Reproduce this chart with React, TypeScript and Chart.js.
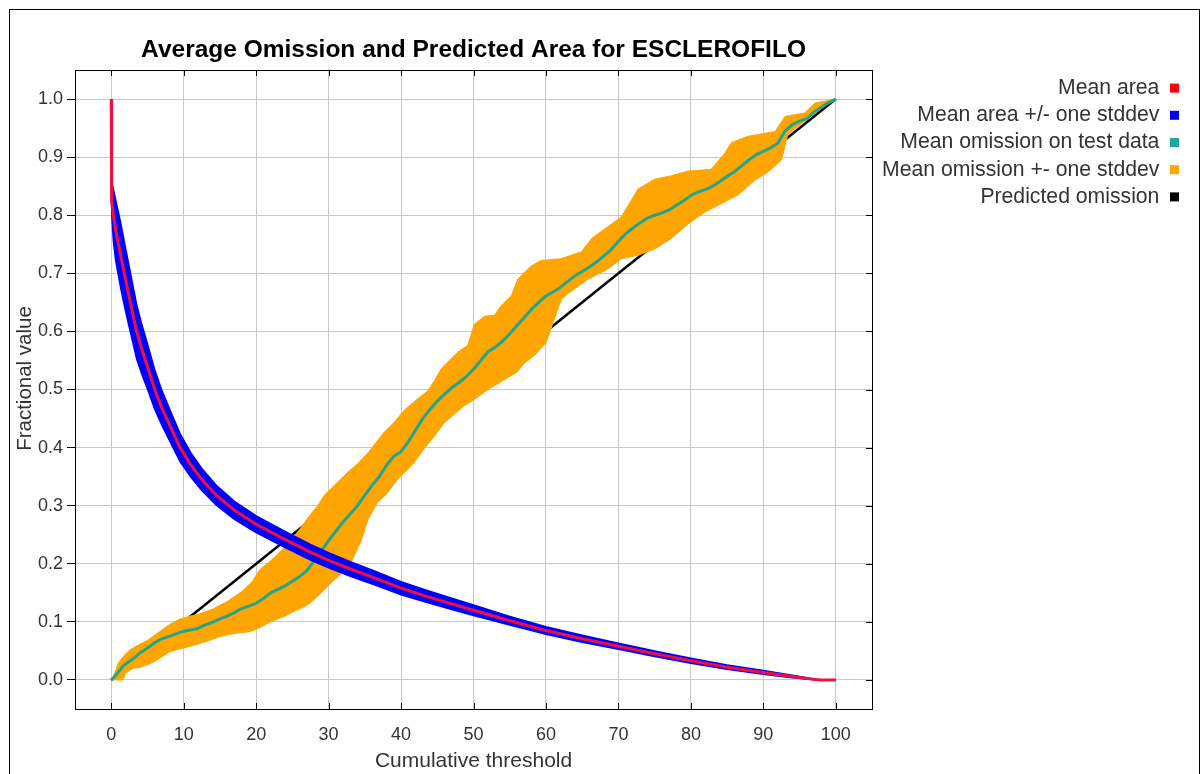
import React, { useEffect, useRef } from 'react';
import { Chart, registerables } from 'chart.js';

Chart.register(...registerables);

const FONT = "'Liberation Sans', Arial, Helvetica, sans-serif";

const TITLE = 'Average Omission and Predicted Area for ESCLEROFILO';
const X_TITLE = 'Cumulative threshold';
const Y_TITLE = 'Fractional value';

const LEGEND_LABELS = [
  'Mean area',
  'Mean area +/- one stddev',
  'Mean omission on test data',
  'Mean omission +- one stddev',
  'Predicted omission',
];
const LEGEND_COLORS = ['#ff0000', '#0000ff', '#1fa89a', '#ffa500', '#000000'];
const LEGEND_DATASET = [0, 1, 3, 4, 6];

const X_TICKS = [0, 10, 20, 30, 40, 50, 60, 70, 80, 90, 100];
const Y_TICKS = [0, 0.1, 0.2, 0.3, 0.4, 0.5, 0.6, 0.7, 0.8, 0.9, 1.0];

// Mean area (red)
const areaX = [0, 0, 0.1, 0.3, 0.6, 1.0, 1.4, 1.8, 2.3, 2.9, 3.5, 4.2, 5.0, 6.0, 7.0, 8.2, 9.5, 11, 12.5, 14.5, 17, 20, 23.8, 27.5, 30, 33, 36.5, 40, 43.5, 47, 50, 55, 60, 65, 70, 75, 80, 85, 90, 94, 97, 98, 100];
const areaMean = [1.0, 0.85, 0.825, 0.8, 0.775, 0.75, 0.725, 0.7, 0.67, 0.635, 0.6, 0.57, 0.54, 0.5, 0.468, 0.435, 0.4, 0.37, 0.345, 0.318, 0.292, 0.268, 0.243, 0.22, 0.206, 0.191, 0.175, 0.158, 0.144, 0.131, 0.12, 0.102, 0.085, 0.071, 0.058, 0.045, 0.033, 0.022, 0.013, 0.006, 0.001, 0, 0];

// Mean area +/- one stddev (blue band)
const areaBandX = [0, 0.1, 0.3, 0.6, 1.0, 1.4, 1.8, 2.3, 2.9, 3.5, 4.2, 5.0, 6.0, 7.0, 8.2, 9.5, 11, 12.5, 14.5, 17, 20, 23.8, 27.5, 30, 33, 36.5, 40, 43.5, 47, 50, 55, 60, 65, 70, 75, 80, 85, 90, 94, 97, 98, 100];
const areaUpper = [0.86, 0.855, 0.845, 0.827, 0.805, 0.781, 0.755, 0.723, 0.685, 0.647, 0.613, 0.579, 0.534, 0.498, 0.462, 0.424, 0.391, 0.364, 0.335, 0.3075, 0.2825, 0.257, 0.2335, 0.219, 0.2035, 0.187, 0.1692, 0.1545, 0.1407, 0.129, 0.1095, 0.0915, 0.077, 0.0633, 0.0498, 0.0373, 0.0258, 0.0162, 0.0082, 0.0018, 0, 0];
const areaLower = [0.84, 0.795, 0.755, 0.723, 0.695, 0.669, 0.645, 0.617, 0.585, 0.553, 0.527, 0.501, 0.466, 0.438, 0.408, 0.376, 0.349, 0.326, 0.301, 0.2765, 0.2535, 0.229, 0.2065, 0.193, 0.1785, 0.163, 0.1468, 0.1335, 0.1213, 0.111, 0.0945, 0.0785, 0.065, 0.0527, 0.0402, 0.0287, 0.0182, 0.0098, 0.0038, 0.0002, 0, 0];

// Mean omission on test data (teal)
const omissionX = [0, 0.5, 1, 1.7, 2.5, 3.2, 3.9, 5, 6, 6.8, 8, 9.5, 10.5, 11.8, 13, 14, 15, 16, 17, 17.8, 19, 20, 21, 22, 23, 24, 25, 26, 27, 28, 29, 30, 31, 32, 33, 34, 35, 36, 37, 38, 39, 40, 41, 42, 43, 44, 45, 46, 47, 48, 49, 50, 51, 52, 53, 54, 55, 56, 57, 58, 59, 60, 61, 62, 63, 64, 65, 66, 67, 68, 69, 70, 71, 72, 73, 74, 75, 76, 77, 78, 79, 80, 81, 82, 83, 84, 85, 86, 87, 88, 89, 90, 91, 92, 93, 94, 95, 96, 97, 98, 99, 100];
const omissionMean = [0, 0.006, 0.014, 0.025, 0.032, 0.038, 0.046, 0.055, 0.064, 0.07, 0.075, 0.082, 0.085, 0.088, 0.095, 0.099, 0.105, 0.11, 0.116, 0.122, 0.127, 0.132, 0.14, 0.15, 0.156, 0.162, 0.17, 0.178, 0.188, 0.205, 0.222, 0.24, 0.256, 0.272, 0.286, 0.3, 0.318, 0.335, 0.35, 0.37, 0.385, 0.393, 0.41, 0.43, 0.45, 0.466, 0.48, 0.492, 0.503, 0.512, 0.522, 0.535, 0.55, 0.565, 0.573, 0.583, 0.596, 0.61, 0.624, 0.638, 0.65, 0.661, 0.668, 0.676, 0.686, 0.696, 0.703, 0.711, 0.72, 0.73, 0.741, 0.755, 0.768, 0.778, 0.787, 0.795, 0.8, 0.804, 0.809, 0.817, 0.825, 0.834, 0.84, 0.844, 0.85, 0.858, 0.867, 0.875, 0.885, 0.895, 0.904, 0.91, 0.916, 0.924, 0.945, 0.956, 0.962, 0.966, 0.978, 0.986, 0.994, 1.0];

// Mean omission +- one stddev (orange band)
const omUpperX = [0, 0.5, 1, 2, 2.6, 4, 5, 7, 8, 9.5, 11, 12.5, 14, 16, 18, 19.5, 20.5, 22, 23, 24.5, 25.7, 27.5, 28.5, 29.4, 30.7, 32.6, 34, 35.5, 37.7, 39, 40.5, 42.3, 43.7, 44.6, 45.5, 46.4, 47.8, 49.2, 50.1, 51.5, 52.9, 53.8, 55.2, 56.1, 58, 59.3, 62, 64.9, 66.3, 68.5, 70.4, 72.7, 75, 77.3, 79.6, 82.8, 84.7, 85.6, 87.9, 91.6, 93, 95.7, 97.1, 100];
const omUpper = [0, 0.012, 0.03, 0.045, 0.052, 0.062, 0.068, 0.086, 0.095, 0.105, 0.11, 0.115, 0.122, 0.135, 0.152, 0.17, 0.19, 0.205, 0.217, 0.235, 0.254, 0.285, 0.3, 0.318, 0.334, 0.357, 0.372, 0.392, 0.427, 0.443, 0.465, 0.484, 0.498, 0.515, 0.535, 0.547, 0.564, 0.576, 0.612, 0.626, 0.628, 0.644, 0.661, 0.69, 0.713, 0.722, 0.725, 0.737, 0.76, 0.78, 0.797, 0.845, 0.862, 0.868, 0.876, 0.879, 0.907, 0.925, 0.936, 0.944, 0.97, 0.976, 0.993, 1.0];
const omLowerX = [0, 1.6, 2, 3, 4, 5, 6, 7, 8, 9, 10, 12, 14, 15, 17, 19, 20, 22, 24, 25, 26.5, 27.5, 29, 30.3, 31.5, 33.1, 34.5, 35.4, 36.7, 38, 39.5, 41.8, 43, 44.6, 46, 48.7, 50, 52, 54, 56, 57, 58.5, 60, 62.1, 63, 65.8, 68.5, 70.4, 72.7, 75, 77.3, 79.6, 81.9, 84.2, 86.5, 88.8, 90.7, 92.5, 93.4, 96.2, 98, 100];
const omLower = [0, 0, 0.012, 0.02, 0.022, 0.026, 0.032, 0.04, 0.048, 0.052, 0.055, 0.062, 0.07, 0.075, 0.08, 0.083, 0.087, 0.1, 0.11, 0.117, 0.125, 0.133, 0.15, 0.167, 0.18, 0.202, 0.24, 0.275, 0.305, 0.32, 0.345, 0.374, 0.395, 0.42, 0.443, 0.472, 0.482, 0.5, 0.515, 0.53, 0.545, 0.56, 0.58, 0.655, 0.665, 0.69, 0.707, 0.725, 0.731, 0.742, 0.76, 0.785, 0.805, 0.82, 0.835, 0.86, 0.875, 0.895, 0.94, 0.966, 0.984, 1.0];

// Predicted omission (black)
const predictedX = [0, 100];
const predictedY = [0, 1];

const pts = (xs: number[], ys: number[]) => xs.map((x, i) => ({ x, y: ys[i] }));

const framePlugin = {
  id: 'frameAndTicks',
  afterDatasetsDraw(chart: any) {
    const { ctx, chartArea, scales } = chart;
    const { left, top, right, bottom } = chartArea;
    const x = scales.x;
    const y = scales.y;
    ctx.save();
    ctx.strokeStyle = '#000';
    ctx.lineWidth = 1;
    ctx.strokeRect(Math.round(left) + 0.5, Math.round(top) + 0.5, Math.round(right - left), Math.round(bottom - top));
    ctx.beginPath();
    X_TICKS.forEach((v) => {
      const px = Math.round(x.getPixelForValue(v)) + 0.5;
      ctx.moveTo(px, bottom);
      ctx.lineTo(px, bottom - 6);
      ctx.moveTo(px, top);
      ctx.lineTo(px, top + 6);
    });
    Y_TICKS.forEach((v) => {
      const py = Math.round(y.getPixelForValue(v)) + 0.5;
      ctx.moveTo(right, py);
      ctx.lineTo(right - 6, py);
    });
    ctx.stroke();
    ctx.translate(15.5, (top + bottom) / 2 - 11);
    ctx.rotate(-Math.PI / 2);
    ctx.textAlign = 'center';
    ctx.textBaseline = 'middle';
    ctx.font = `20.5px ${FONT}`;
    ctx.fillStyle = '#333';
    ctx.fillText(Y_TITLE, 0, 0);
    ctx.restore();
  },
};

export default function App() {
  const ref = useRef<HTMLCanvasElement | null>(null);

  useEffect(() => {
    if (!ref.current) return;
    const chart = new Chart(ref.current, {
      type: 'line',
      data: {
        datasets: [
          {
            label: LEGEND_LABELS[0],
            data: pts(areaX, areaMean),
            borderColor: '#f01040',
            backgroundColor: '#ff0000',
            borderWidth: 3,
            fill: false,
          },
          {
            label: LEGEND_LABELS[1],
            data: pts(areaBandX, areaUpper),
            borderColor: '#0000ff',
            backgroundColor: '#0000ff',
            borderWidth: 1.5,
            fill: false,
          },
          {
            label: LEGEND_LABELS[1] + ' (lower)',
            data: pts(areaBandX, areaLower),
            borderColor: '#0000ff',
            backgroundColor: '#0000ff',
            borderWidth: 1.5,
            fill: '-1',
          },
          {
            label: LEGEND_LABELS[2],
            data: pts(omissionX, omissionMean),
            borderColor: '#22a48e',
            backgroundColor: '#1fa89a',
            borderWidth: 3,
            fill: false,
          },
          {
            label: LEGEND_LABELS[3],
            data: pts(omUpperX, omUpper),
            borderColor: '#ffa500',
            backgroundColor: '#ffa500',
            borderWidth: 1,
            fill: false,
          },
          {
            label: LEGEND_LABELS[3] + ' (lower)',
            data: pts(omLowerX, omLower),
            borderColor: '#ffa500',
            backgroundColor: '#ffa500',
            borderWidth: 1,
            fill: '-1',
          },
          {
            label: LEGEND_LABELS[4],
            data: pts(predictedX, predictedY),
            borderColor: '#000000',
            backgroundColor: '#000000',
            borderWidth: 2.5,
            fill: false,
          },
        ],
      },
      options: {
        responsive: false,
        animation: false,
        devicePixelRatio: 1,
        events: [],
        elements: { point: { radius: 0, hitRadius: 0 }, line: { tension: 0 } },
        layout: { padding: { left: 0, top: 0, right: 14, bottom: 0 } },
        scales: {
          x: {
            type: 'linear',
            min: -5,
            max: 105,
            afterFit: (s: any) => {
              s.height = 65;
            },
            afterBuildTicks: (s: any) => {
              s.ticks = X_TICKS.map((v) => ({ value: v }));
            },
            ticks: {
              font: { family: FONT, size: 18 },
              color: '#333',
              padding: 15.2,
              maxRotation: 0,
              autoSkip: false,
              callback: (v: any) => String(v),
            },
            grid: { color: '#c8c8c8', lineWidth: 1, drawTicks: false },
            border: { display: true, color: '#000' },
            title: {
              display: true,
              text: X_TITLE,
              color: '#333',
              font: { family: FONT, size: 21, lineHeight: 1.2 },
              padding: { top: 0, bottom: 0.4 },
            },
          },
          y: {
            type: 'linear',
            min: -0.05,
            max: 1.05,
            afterFit: (s: any) => {
              s.width = 65;
            },
            afterBuildTicks: (s: any) => {
              s.ticks = Y_TICKS.map((v) => ({ value: v }));
            },
            ticks: {
              font: { family: FONT, size: 18 },
              color: '#333',
              padding: 4,
              callback: (v: any) => Number(v).toFixed(1),
            },
            grid: { color: '#c8c8c8', lineWidth: 1, tickColor: '#000', tickLength: 8, drawTicks: true },
            border: { display: true, color: '#000' },
            title: { display: false },
          },
        },
        plugins: {
          tooltip: { enabled: false },
          title: {
            display: true,
            text: TITLE,
            fullSize: false,
            align: 'center',
            color: '#000',
            font: { family: FONT, size: 24.5, weight: 'bold', lineHeight: 1.2 },
            padding: { top: 25.3, bottom: 5.3 },
          },
          legend: {
            display: true,
            position: 'right',
            align: 'start',
            rtl: true,
            maxWidth: 420,
            title: { display: true, text: '', padding: { top: 51.5, bottom: 0 }, font: { size: 10, lineHeight: 1 } },
            labels: {
              font: { family: FONT, size: 21.2 },
              color: '#333',
              boxWidth: 9,
              boxHeight: 9,
              padding: 6,
              generateLabels: () =>
                LEGEND_LABELS.map((text, i) => ({
                  text,
                  fillStyle: LEGEND_COLORS[i],
                  strokeStyle: LEGEND_COLORS[i],
                  lineWidth: 0,
                  hidden: false,
                  datasetIndex: LEGEND_DATASET[i],
                  fontColor: '#333',
                })),
            },
          },
        },
      } as any,
      plugins: [framePlugin],
    });
    return () => chart.destroy();
  }, []);

  return (
    <div
      style={{
        position: 'fixed',
        left: 9,
        top: 9,
        width: 1189,
        height: 800,
        border: '1px solid #000',
        background: '#fff',
      }}
    >
      <canvas ref={ref} width={1189} height={764} style={{ display: 'block', width: 1189, height: 764 }} />
    </div>
  );
}
